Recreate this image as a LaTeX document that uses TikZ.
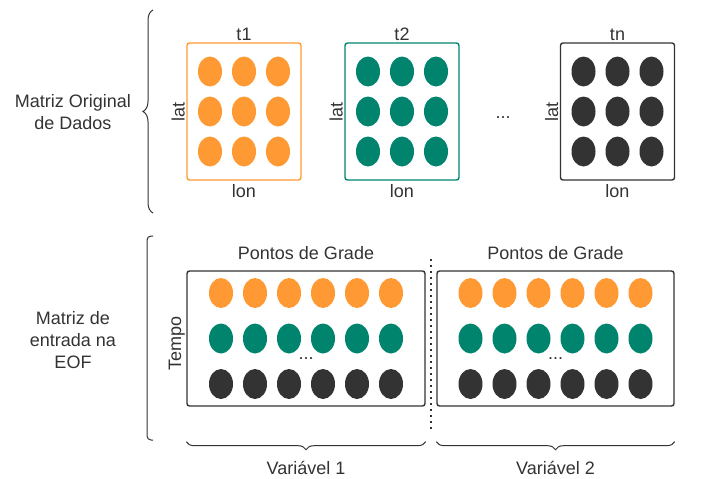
\documentclass[tikz,border=0pt]{standalone}
\usepackage{fontspec}
\setmainfont{Liberation Sans}
\usetikzlibrary{positioning,calc,shapes.geometric,decorations.pathreplacing}
\definecolor{laranja}{HTML}{FF9933}
\definecolor{verde}{HTML}{00846E}
\definecolor{escuro}{HTML}{333333}

\tikzset{
	caixa/.style={draw, rounded corners=2.5pt, line width=1.4pt, inner sep=0pt},
	ponto/.style={ellipse, minimum width=24pt, minimum height=30pt, inner sep=0pt},
	rotulo/.style={text=escuro, font=\fontsize{18}{22}\selectfont},
	chave/.style={decorate, draw=escuro, line width=1pt},
}

\begin{document}
\begin{tikzpicture}[x=1pt, y=-1pt]
	\useasboundingbox (0,0) rectangle (710,479);

	\node[caixa, draw=laranja, minimum width=114pt, minimum height=137pt] (b1) at (244,111.5) {};
	\node[caixa, draw=verde, minimum width=114pt, minimum height=137pt] (b2) at (402,111.5) {};
	\node[caixa, draw=escuro, minimum width=114pt, minimum height=137pt] (bn) at (617.5,111.5) {};
	\foreach \bx/\cor in {b1/laranja, b2/verde, bn/escuro}
		\foreach \i in {1,2,3}
			\foreach \j in {1,2,3}
				\node[ponto, fill=\cor] (\bx-\i\j) at ([shift={(34*\i-68,40*\j-80)}]\bx.center) {};

	\node[rotulo, above=-2pt of b1] (t1) {t1};
	\node[rotulo, above=-2pt of b2] (t2) {t2};
	\node[rotulo, above=-2pt of bn] (tn) {tn};
	\foreach \bx in {b1, b2, bn} {
		\node[rotulo, below=0pt of \bx] (\bx-lon) {lon};
		\node[rotulo, rotate=90, anchor=south] (\bx-lat) at ([xshift=2pt]\bx.west) {lat};
	}
	\node[rotulo, anchor=base] (reti) at (503,118) {...};

	\node[caixa, draw=escuro, minimum width=238pt, minimum height=135pt] (g1) at (306,338.5) {};
	\node[caixa, draw=escuro, minimum width=237pt, minimum height=135pt] (g2) at (555.5,338.5) {};
	\foreach \gx in {g1, g2} {
		\foreach \cor [count=\j] in {laranja, verde, escuro}
			\foreach \i in {1,...,6}
				\node[ponto, fill=\cor] (\gx-\j\i) at ([shift={(34*\i-119,45.5*\j-91)}]\gx.center) {};
		\node[rotulo, above=7pt of \gx] (\gx-pg) {Pontos de Grade};
		\node[rotulo, anchor=base] (\gx-ret) at ([shift={(0,21)}]\gx.center) {...};
	}
	\node[rotulo, rotate=90, anchor=south] (tempo) at ([shift={(2,5)}]g1.west) {Tempo};
	\draw[escuro, line width=1.5pt, dash pattern=on 1.5pt off 4.5pt]
		($(g1.north east)!0.5!(g2.north west)+(0,-11)$) -- ($(g1.south east)!0.5!(g2.south west)+(0,24)$);

	\draw[chave, decoration={brace, mirror, amplitude=8pt}] ([shift={(0,35)}]g1.south west) -- ([shift={(0,35)}]g1.south east);
	\draw[chave, decoration={brace, mirror, amplitude=8pt}] ([shift={(0,35)}]g2.south west) -- ([shift={(0,35)}]g2.south east);
	\node[rotulo] (var1) at ($(g1.south)+(0,61)$) {Variável 1};
	\node[rotulo] (var2) at ($(g2.south)+(0,61)$) {Variável 2};

	\draw[chave, decoration={brace, amplitude=10pt}] (153,213) -- (153,10);
	\draw[escuro, line width=1pt, rounded corners=4pt] (153,236) -- (147,236) -- (147,440) -- (153,440);
	\node[rotulo, align=center] (orig) at (73,112) {Matriz Original\\de Dados};
	\node[rotulo, align=center] (entr) at (73,340) {Matriz de\\entrada na\\EOF};
\end{tikzpicture}
\end{document}
